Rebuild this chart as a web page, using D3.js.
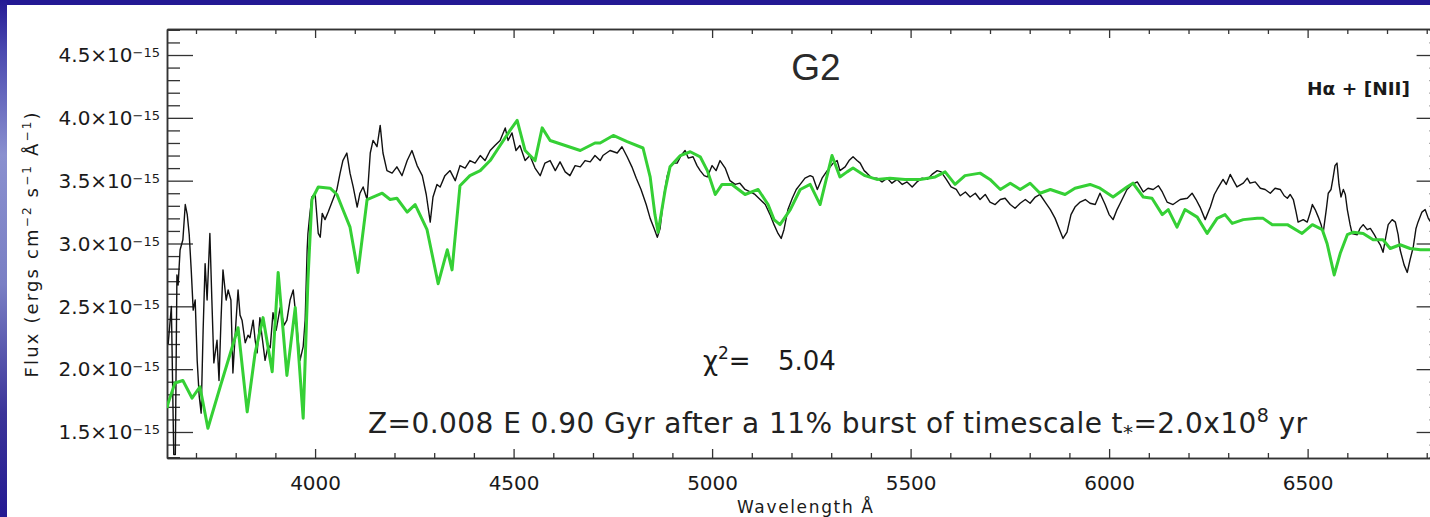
<!DOCTYPE html>
<html>
<head>
<meta charset="utf-8">
<script src="https://cdn.jsdelivr.net/npm/d3@7"></script>
<style>
  html, body { margin: 0; padding: 0; background: #fff; }
  svg { display: block; }
  text { font-family: "DejaVu Sans", sans-serif; fill: #1a1a1a; }
</style>
</head>
<body>
<svg id="chart" width="1430" height="517"></svg>
<script>
// wavelength ticks (Angstrom) and flux ticks (units of 1e-15)
const xTicks = [4000, 4500, 5000, 5500, 6000, 6500];
const yTicks = [1.5, 2.0, 2.5, 3.0, 3.5, 4.0, 4.5];

// observed spectrum (black)
const obsWave = [3630,3638,3644,3648,3652,3655,3660,3667,3673,3678,3683,3688,3693,3698,3703,3708,3713,3718,3723,3728,
  3735,3740,3745,3753,3758,3763,3768,3776,3781,3788,3793,3801,3806,3811,3816,3824,3831,3836,3844,3849,
  3854,3861,3866,3874,3882,3887,3894,3902,3912,3922,3929,3937,3945,3950,3955,3962,3970,3975,3980,3982,
  3987,3992,4000,4008,4013,4018,4025,4033,4045,4055,4063,4070,4080,4088,4096,4106,4113,4121,4131,4139,
  4146,4156,4164,4171,4181,4194,4206,4219,4232,4244,4257,4270,4280,4290,4297,4307,4315,4327,4340,4353,
  4365,4378,4390,4403,4416,4428,4441,4453,4466,4479,4486,4496,4506,4516,4529,4541,4554,4567,4579,4592,
  4605,4617,4630,4642,4655,4668,4680,4693,4705,4718,4725,4743,4761,4773,4786,4798,4809,4821,4834,4844,
  4854,4862,4869,4879,4887,4894,4905,4912,4922,4932,4940,4952,4962,4970,4980,4988,5000,5010,5020,5033,
  5045,5058,5070,5083,5096,5108,5121,5134,5146,5156,5166,5174,5181,5191,5202,5212,5222,5234,5247,5254,
  5265,5277,5290,5305,5315,5322,5335,5345,5355,5365,5373,5383,5390,5403,5415,5428,5441,5453,5466,5479,
  5491,5504,5516,5529,5542,5554,5567,5577,5590,5602,5615,5625,5638,5650,5663,5675,5688,5700,5713,5726,
  5738,5751,5763,5776,5789,5801,5814,5826,5839,5852,5864,5874,5884,5894,5904,5914,5927,5940,5952,5965,
  5977,5990,6000,6010,6020,6028,6045,6058,6071,6086,6098,6111,6124,6134,6146,6161,6179,6197,6209,6219,
  6229,6242,6255,6265,6272,6287,6295,6305,6315,6322,6338,6348,6355,6368,6381,6393,6406,6418,6431,6441,
  6449,6456,6464,6471,6476,6489,6499,6507,6512,6519,6527,6534,6539,6547,6552,6559,6564,6569,6574,6579,
  6584,6590,6595,6600,6607,6612,6625,6632,6640,6650,6658,6668,6675,6683,6690,6698,6703,6713,6721,6728,
  6733,6743,6751,6758,6766,6773,6778,6788,6796,6804,6814];
const obsFlux = [2.20,2.50,1.32,1.32,2.75,2.67,2.95,3.03,3.31,3.23,3.07,2.79,2.47,2.55,2.07,1.79,1.65,2.31,2.84,2.55,
  3.08,2.55,2.05,2.23,1.91,2.39,2.79,2.55,2.63,2.55,1.97,2.39,2.63,2.43,2.39,2.21,2.27,2.25,2.39,2.23,
  2.13,2.41,2.27,2.07,2.19,2.17,2.45,2.31,2.49,2.35,2.39,2.55,2.63,2.47,2.31,2.07,2.18,2.39,2.95,3.08,
  3.24,3.37,3.40,3.08,3.05,3.24,3.19,3.25,3.35,3.43,3.56,3.66,3.72,3.56,3.45,3.29,3.40,3.45,3.35,3.72,
  3.82,3.77,3.94,3.72,3.58,3.56,3.61,3.54,3.66,3.74,3.62,3.54,3.39,3.17,3.37,3.47,3.45,3.54,3.58,3.50,
  3.62,3.60,3.66,3.64,3.70,3.66,3.74,3.78,3.82,3.92,3.82,3.88,3.74,3.78,3.66,3.70,3.60,3.54,3.64,3.66,
  3.58,3.65,3.57,3.54,3.62,3.61,3.66,3.65,3.70,3.66,3.70,3.74,3.72,3.77,3.69,3.61,3.52,3.43,3.31,3.20,
  3.12,3.05,3.12,3.39,3.54,3.61,3.64,3.64,3.70,3.74,3.68,3.69,3.62,3.58,3.54,3.53,3.62,3.58,3.66,3.60,
  3.50,3.47,3.48,3.43,3.41,3.39,3.35,3.31,3.23,3.15,3.08,3.04,3.11,3.27,3.36,3.43,3.47,3.52,3.54,3.53,
  3.43,3.52,3.58,3.64,3.66,3.58,3.61,3.66,3.69,3.66,3.64,3.58,3.56,3.52,3.52,3.49,3.52,3.48,3.51,3.47,
  3.49,3.45,3.49,3.52,3.51,3.55,3.58,3.57,3.51,3.45,3.43,3.38,3.41,3.37,3.40,3.35,3.39,3.33,3.31,3.35,
  3.36,3.31,3.28,3.32,3.35,3.32,3.37,3.39,3.33,3.27,3.20,3.12,3.04,3.09,3.23,3.29,3.33,3.35,3.32,3.31,
  3.40,3.31,3.23,3.19,3.27,3.32,3.43,3.47,3.49,3.41,3.44,3.43,3.46,3.41,3.33,3.31,3.35,3.36,3.40,3.35,
  3.29,3.19,3.29,3.39,3.43,3.51,3.47,3.55,3.49,3.45,3.48,3.52,3.48,3.49,3.44,3.43,3.40,3.44,3.43,3.38,
  3.36,3.39,3.35,3.25,3.17,3.19,3.17,3.25,3.31,3.27,3.21,3.15,3.08,3.27,3.40,3.43,3.52,3.62,3.64,3.47,
  3.37,3.43,3.39,3.27,3.15,3.08,3.07,3.12,3.15,3.11,3.12,3.07,3.03,2.99,2.93,3.07,3.15,3.19,3.17,3.07,
  2.95,2.83,2.77,2.87,2.97,3.12,3.17,3.25,3.27,3.20,3.15];

// best-fit model (green)
const modelWave = [3627,3630,3647,3667,3690,3710,3730,3761,3806,3829,3849,3869,3892,3907,3929,3950,3970,3982,3992,4008,
  4038,4055,4070,4088,4108,4131,4169,4189,4206,4232,4252,4282,4310,4333,4345,4365,4390,4416,4441,4466,
  4491,4509,4529,4554,4572,4592,4630,4668,4705,4718,4751,4786,4826,4844,4856,4864,4882,4894,4920,4945,
  4970,4988,5008,5025,5050,5083,5116,5141,5156,5171,5197,5222,5247,5272,5302,5322,5340,5355,5385,5415,
  5448,5486,5524,5562,5587,5612,5637,5675,5700,5726,5751,5776,5801,5826,5852,5889,5914,5952,5977,6010,
  6045,6060,6086,6108,6134,6149,6171,6191,6222,6247,6272,6292,6310,6338,6373,6388,6411,6449,6486,6512,
  6537,6549,6567,6582,6600,6615,6640,6665,6690,6708,6733,6758,6784,6814];
const modelFlux = [1.69,1.73,1.89,1.91,1.77,1.86,1.53,1.86,2.33,1.66,2.13,2.41,1.98,2.77,1.95,2.49,1.61,2.71,3.35,3.45,
  3.44,3.39,3.27,3.13,2.77,3.35,3.40,3.35,3.36,3.25,3.31,3.11,2.68,2.95,2.79,3.46,3.54,3.58,3.66,3.78,
  3.90,3.98,3.74,3.66,3.92,3.82,3.78,3.74,3.80,3.80,3.86,3.81,3.76,3.53,3.23,3.09,3.43,3.61,3.70,3.73,
  3.69,3.58,3.39,3.47,3.47,3.39,3.43,3.31,3.19,3.15,3.27,3.43,3.47,3.31,3.70,3.53,3.57,3.60,3.54,3.51,
  3.52,3.51,3.51,3.53,3.57,3.47,3.54,3.56,3.51,3.43,3.48,3.43,3.48,3.40,3.43,3.39,3.44,3.47,3.44,3.37,
  3.45,3.48,3.37,3.36,3.23,3.27,3.13,3.27,3.21,3.08,3.20,3.23,3.16,3.19,3.20,3.20,3.15,3.15,3.08,3.15,
  3.11,3.00,2.75,2.92,3.07,3.09,3.08,3.03,3.03,2.96,2.99,2.96,2.95,2.95];

const obs = obsWave.map((w, i) => ({ w: w, f: obsFlux[i] }));
const model = modelWave.map((w, i) => ({ w: w, f: modelFlux[i] }));

const svg = d3.select("#chart");

// blue slide frame
const defs = svg.append("defs");
const grad = defs.append("linearGradient").attr("id", "edge")
  .attr("x1", 0).attr("y1", 0).attr("x2", 0).attr("y2", 1);
[["0", "#241a94"], ["0.1", "#4b4ab0"], ["0.3", "#8a90cf"], ["0.55", "#7a7fc4"], ["0.8", "#3b3499"], ["1", "#241a92"]]
  .forEach(s => grad.append("stop").attr("offset", s[0]).attr("stop-color", s[1]));
svg.append("rect").attr("width", 1430).attr("height", 517).attr("fill", "#fff");
svg.append("rect").attr("x", 0).attr("y", 0).attr("width", 1430).attr("height", 5).attr("fill", "#231994");
svg.append("rect").attr("x", 0).attr("y", 0).attr("width", 7).attr("height", 517).attr("fill", "url(#edge)");

const plotL = 167, plotR = 1442.6, plotT = 29, plotB = 458;

const x = d3.scaleLinear().domain([3627, 6840]).range([plotL, plotR]);
const y = d3.scaleLinear().domain([1.293, 4.707]).range([plotB, plotT]);

defs.append("clipPath").attr("id", "plot")
  .append("rect").attr("x", plotL).attr("y", plotT).attr("width", plotR - plotL).attr("height", plotB - plotT);

const xMinor = d3.range(3700, 6900, 100).filter(d => d % 500 !== 0);
const yMinor = d3.range(13, 48).filter(d => d % 5 !== 0).map(d => d / 10);

function styleAxis(g) {
  g.select(".domain").attr("stroke", "#333").attr("stroke-width", 1.5);
  g.selectAll(".tick line").attr("stroke", "#333").attr("stroke-width", 1.3);
}

// bottom axis with labels
const xb = svg.append("g").attr("transform", `translate(0,${plotB})`)
  .call(d3.axisBottom(x).tickValues(xTicks).tickSize(-9).tickSizeOuter(0).tickPadding(18).tickFormat(d3.format("d")));
xb.attr("font-size", 20).attr("font-family", null);
styleAxis(xb);
svg.append("g").attr("transform", `translate(0,${plotB})`)
  .call(d3.axisBottom(x).tickValues(xMinor).tickSize(-5).tickSizeOuter(0).tickFormat(""))
  .call(styleAxis);

// top axis
svg.append("g").attr("transform", `translate(0,${plotT})`)
  .call(d3.axisTop(x).tickValues(xTicks).tickSize(-9).tickSizeOuter(0).tickFormat(""))
  .call(styleAxis);
svg.append("g").attr("transform", `translate(0,${plotT})`)
  .call(d3.axisTop(x).tickValues(xMinor).tickSize(-5).tickSizeOuter(0).tickFormat(""))
  .call(styleAxis);

// left axis with  N.N×10^-15 labels
const yl = svg.append("g").attr("transform", `translate(${plotL},0)`)
  .call(d3.axisLeft(y).tickValues(yTicks).tickSize(-26).tickSizeOuter(0).tickPadding(7).tickFormat(""));
yl.attr("font-size", 20).attr("font-family", null);
styleAxis(yl);
yl.selectAll(".tick text").each(function(d) {
  const t = d3.select(this).text(null).attr("dy", "0.34em");
  t.append("tspan").text(d.toFixed(1) + "×10");
  t.append("tspan").attr("dy", -5).attr("font-size", 13).text("−15");
});
svg.append("g").attr("transform", `translate(${plotL},0)`)
  .call(d3.axisLeft(y).tickValues(yMinor).tickSize(-13).tickSizeOuter(0).tickFormat(""))
  .call(styleAxis);

// right axis
svg.append("g").attr("transform", `translate(${plotR},0)`)
  .call(d3.axisRight(y).tickValues(yTicks).tickSize(-26).tickSizeOuter(0).tickFormat(""))
  .call(styleAxis);
svg.append("g").attr("transform", `translate(${plotR},0)`)
  .call(d3.axisRight(y).tickValues(yMinor).tickSize(-13).tickSizeOuter(0).tickFormat(""))
  .call(styleAxis);

// spectra
const line = d3.line().x(d => x(d.w)).y(d => y(d.f));
const plot = svg.append("g").attr("clip-path", "url(#plot)");
plot.append("path").datum(obs)
  .attr("fill", "none").attr("stroke", "#111").attr("stroke-width", 1.4)
  .attr("stroke-linejoin", "round").attr("d", line);
plot.append("path").datum(model)
  .attr("fill", "none").attr("stroke", "#35d035").attr("stroke-width", 3)
  .attr("stroke-linejoin", "round").attr("d", line);

// title and annotations
svg.append("text").attr("x", 816).attr("y", 80).attr("text-anchor", "middle")
  .style("font-family", "'Liberation Sans', sans-serif").attr("font-size", 37).style("fill", "#2a2a2a").text("G2");

svg.append("text").attr("x", 1307).attr("y", 95).attr("font-size", 18).attr("font-weight", "bold")
  .attr("textLength", 103).attr("lengthAdjust", "spacingAndGlyphs").text("Hα + [NII]");

const chi = svg.append("text").attr("x", 703).attr("y", 370).attr("font-size", 26);
chi.append("tspan").text("χ");
chi.append("tspan").attr("dy", -11).attr("font-size", 17).text("2");
chi.append("tspan").attr("dy", 11).text("=");
chi.append("tspan").attr("x", 778).text("5.04");

const ann = svg.append("text").attr("x", 368).attr("y", 433).attr("font-size", 28)
  .style("fill", "#222")
  .attr("textLength", 939).attr("lengthAdjust", "spacing");
ann.append("tspan").text("Z=0.008 E 0.90 Gyr after a 11% burst of timescale t");
ann.append("tspan").attr("dy", 6).attr("font-size", 20).text("*");
ann.append("tspan").attr("dy", -6).text("=2.0x10");
ann.append("tspan").attr("dy", -11).attr("font-size", 19).text("8");
ann.append("tspan").attr("dy", 11).text(" yr");

// axis titles
svg.append("text").attr("x", 805).attr("y", 513).attr("text-anchor", "middle").attr("font-size", 17)
  .attr("textLength", 136).attr("lengthAdjust", "spacing").text("Wavelength Å");

const yt = svg.append("text").attr("transform", "translate(38,245) rotate(-90)")
  .attr("text-anchor", "middle").attr("font-size", 18)
  .attr("textLength", 265).attr("lengthAdjust", "spacing");
yt.append("tspan").text("Flux (ergs cm");
yt.append("tspan").attr("dy", -7).attr("font-size", 12).text("−2");
yt.append("tspan").attr("dy", 7).text(" s");
yt.append("tspan").attr("dy", -7).attr("font-size", 12).text("−1");
yt.append("tspan").attr("dy", 7).text(" Å");
yt.append("tspan").attr("dy", -7).attr("font-size", 12).text("−1");
yt.append("tspan").attr("dy", 7).text(")");
</script>
</body>
</html>
